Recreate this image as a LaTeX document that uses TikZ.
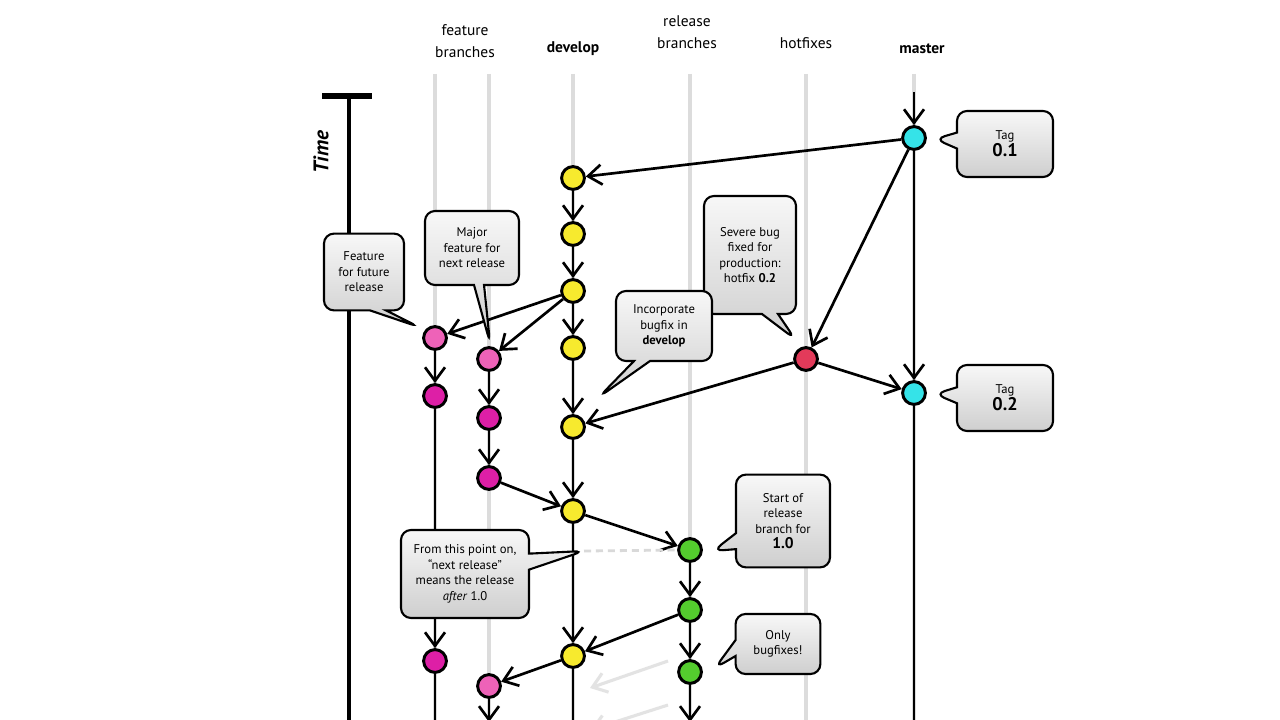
\documentclass[tikz,border=0pt]{standalone}
\usepackage{fontspec}
\setmainfont{PT Sans}
\usetikzlibrary{arrows.meta, positioning, shapes.callouts}

\definecolor{devyellow}{HTML}{F7EA2E}
\definecolor{tagcyan}{HTML}{35E3E8}
\definecolor{featpink}{HTML}{EE62B8}
\definecolor{featmagenta}{HTML}{DD1FA6}
\definecolor{hotred}{HTML}{E33A5A}
\definecolor{relgreen}{HTML}{54CC2E}
\definecolor{lanegray}{HTML}{DCDCDC}

\begin{document}
\begin{tikzpicture} [
    x=0.025cm, y=-0.025cm,
    commit/.style={circle, draw=black, line width=2.1pt, minimum size=5.7mm, inner sep=0pt},
    every edge/.style={draw, line width=1.9pt, -{Straight Barb[length=3.4mm, width=5mm]}},
    faint edge/.style={draw=gray!22, line width=2.2pt},
    freeze edge/.style={draw=gray!30, line width=2pt, dash pattern=on 5pt off 3.5pt, -},
    lane/.style={draw=lanegray, line width=3pt},
    note/.style={rectangle callout, draw, line width=1.5pt, rounded corners=2.5mm,
      top color=gray!6, bottom color=gray!38, align=center,
      font=\fontsize{9}{11}\selectfont, inner sep=2pt, callout pointer width=4mm},
    header/.style={align=center, font=\fontsize{11}{16}\selectfont}
    % , commit distance=57
  ]

  \useasboundingbox (0,0) rectangle (1280,720);
  \fill[white] (0,0) rectangle (1280,720);

  % Headers
  \node[header] (hFeat) at (465,41) {feature\\branches};
  \node[header, font=\fontsize{11}{16}\selectfont\bfseries] (hDev) at (573,49) {develop};
  \node[header] (hRel) at (687,32) {release\\branches};
  \node[header] (hHot) at (806,43) {hotfixes};
  \node[header, font=\fontsize{11}{16}\selectfont\bfseries] (hMaster) at (922,49) {master};

  % Lanes
  \foreach \x in {435,489,573,690,806,914}
    \draw[lane] (\x,74) -- (\x,720);

  % Time axis
  \draw[line width=3pt] (349,96) -- (349,720);
  \draw[line width=4.5pt] (322,96) -- (372,96);
  \node[rotate=90, font=\fontsize{15}{15}\selectfont\bfseries\itshape] (timeLbl) at (321,152) {Time};

  % Commits
  % master
  \node[commit, fill=tagcyan] (M1) at (914,138) {};
  \node[commit, fill=tagcyan] (M2) at (914,393) {};

  % develop
  \node[commit, fill=devyellow] (D1) at (573,178) {};
  \node[commit, fill=devyellow] (D2) at (573,234) {};
  \node[commit, fill=devyellow] (D3) at (573,291) {};
  \node[commit, fill=devyellow] (D4) at (573,348) {};
  \node[commit, fill=devyellow] (D5) at (573,427) {};
  \node[commit, fill=devyellow] (D6) at (573,511) {};
  \node[commit, fill=devyellow] (D7) at (573,656) {};

  % feature branches
  \node[commit, fill=featpink] (F1a) at (435,338) {};
  \node[commit, fill=featmagenta] (F1b) at (435,396) {};
  \node[commit, fill=featmagenta] (F1c) at (435,661) {};
  \node[commit, fill=featpink] (F2a) at (489,359) {};
  \node[commit, fill=featmagenta] (F2b) at (489,418) {};
  \node[commit, fill=featmagenta] (F2c) at (489,478) {};
  \node[commit, fill=featpink] (F2d) at (489,686) {};

  % hotfix
  \node[commit, fill=hotred] (H1) at (806,359) {};

  % release
  \node[commit, fill=relgreen] (R1) at (690,550) {};
  \node[commit, fill=relgreen] (R2) at (690,610) {};
  \node[commit, fill=relgreen] (R3) at (690,672) {};

  % Loose ends
  \coordinate (mTop) at (914,92);
  \coordinate (mEnd) at (914,720);
  \coordinate (dEnd) at (573,720);
  \coordinate (f1End) at (435,720);
  \coordinate (f2End) at (489,722);
  \coordinate (rEnd) at (690,722);
  \coordinate (freeze) at (584,551);
  \coordinate (fadeA) at (668,661);
  \coordinate (fadeB) at (590,688);
  \coordinate (fadeC) at (668,705);
  \coordinate (fadeD) at (590,730);

  % Edges
  \path (mTop) edge (M1);
  \path (M1) edge (M2);
  \path (M2) edge[-] (mEnd);
  \path (M1) edge (D1);

  \path (D1) edge (D2);
  \path (D2) edge (D3);
  \path (D3) edge (D4);
  \path (D4) edge (D5);
  \path (D5) edge (D6);
  \path (D6) edge (D7);
  \path (D7) edge[-] (dEnd);

  \path (D3) edge (F1a);
  \path (D3) edge (F2a);
  \path (F1a) edge (F1b);
  \path (F1b) edge (F1c);
  \path (F1c) edge[-] (f1End);
  \path (F2a) edge (F2b);
  \path (F2b) edge (F2c);
  \path (F2c) edge (D6);
  \path (D7) edge (F2d);
  \path (F2d) edge (f2End);

  \path (M1) edge (H1);
  \path (H1) edge (M2);
  \path (H1) edge (D5);

  \path (D6) edge (R1);
  \path (R1) edge (R2);
  \path (R2) edge (R3);
  \path (R3) edge (rEnd);
  \path (R2) edge (D7);
  \path (freeze) edge[freeze edge] (R1.west);

  \path (fadeA) edge[faint edge] (fadeB);
  \path (fadeC) edge[faint edge] (fadeD);

  % Callouts
  \node[note, minimum width=2.4cm, minimum height=1.65cm, callout absolute pointer={(935,139)}]
    (tag01) at (1005,144) {Tag\\{\fontsize{13}{16}\selectfont\bfseries 0.1}};
  \node[note, minimum width=2.4cm, minimum height=1.65cm, callout absolute pointer={(935,394)}]
    (tag02) at (1005,398) {Tag\\{\fontsize{13}{16}\selectfont\bfseries 0.2}};
  \node[note, minimum width=2.3cm, minimum height=2.95cm, callout absolute pointer={(795,339)}]
    (severe) at (750,255) {Severe bug\\fixed for\\production:\\hotfix \textbf{0.2}};
  \node[note, minimum width=2.4cm, minimum height=1.75cm, callout absolute pointer={(599,397)}]
    (incorp) at (664,326) {Incorporate\\bugfix in\\\textbf{develop}};
  \node[note, minimum width=2.0cm, minimum height=1.92cm, callout absolute pointer={(419,327)}]
    (future) at (364,272) {Feature\\for future\\release};
  \node[note, minimum width=2.35cm, minimum height=1.85cm, callout pointer width=2.5mm,
    callout absolute pointer={(490,343)}]
    (major) at (472,248) {Major\\feature for\\next release};
  \node[note, minimum width=2.35cm, minimum height=2.32cm, callout absolute pointer={(713,551)}]
    (relstart) at (783,521) {Start of\\release\\branch for\\{\fontsize{11}{14}\selectfont\bfseries 1.0}};
  \node[note, minimum width=3.2cm, minimum height=2.2cm, callout absolute pointer={(freeze)}]
    (nextrel) at (465,574) {From this point on,\\``next release''\\means the release\\\textit{after} 1.0};
  \node[note, minimum width=2.12cm, minimum height=1.5cm, callout absolute pointer={(715,668)}]
    (bugfix) at (778,644) {Only\\bugfixes!};

\end{tikzpicture}
\end{document}
